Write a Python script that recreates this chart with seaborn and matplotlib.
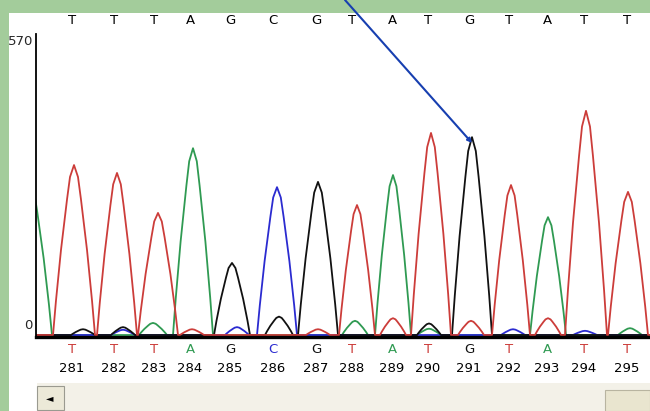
import pandas as pd
import seaborn as sns
import matplotlib.pyplot as plt
from matplotlib.patches import Rectangle

# Base calls shown in the window (scan = position along the trace window)
bases = list('TTTAGCGTATGTATT')
base_numbers = list(range(281, 296))
call_scan = [36, 78, 118, 154, 194, 237, 280, 316, 356, 392, 433, 473, 511, 548, 591]

# Main peaks: channel, apex scan, apex height, half base width
peak_base = ['A', 'T', 'T', 'T', 'A', 'G', 'C', 'G', 'T', 'A', 'T', 'G', 'T', 'A', 'T', 'T']
peak_scan = [-6, 38, 81, 122, 157, 196, 241, 282, 321, 357, 395, 436, 475, 512, 550, 592]
peak_height = [292, 323, 308, 232, 355, 137, 281, 291, 247, 304, 384, 376, 285, 224, 426, 272]
peak_halfwidth = [22, 21, 20, 20, 20, 18, 20, 20, 18, 18, 20, 20, 19, 18, 21, 20]

# Small secondary bumps along the baseline
bump_base = ['G', 'G', 'C', 'A', 'T', 'C', 'G', 'T', 'A', 'T', 'G', 'A', 'T', 'C', 'T', 'C', 'A']
bump_scan = [47, 87, 87, 117, 156, 201, 243, 282, 319, 357, 393, 393, 435, 477, 512, 549, 594]
bump_height = [11, 15, 10, 23, 11, 15, 35, 11, 27, 32, 22, 12, 27, 11, 32, 8, 13]
bump_halfwidth = [12, 12, 12, 14, 12, 12, 14, 12, 13, 13, 12, 12, 13, 12, 13, 12, 12]

shape_dx = [-1, -0.86, -0.62, -0.33, -0.19, 0, 0.19, 0.33, 0.62, 0.86, 1]
shape_fy = [0, 0.2, 0.5, 0.8, 0.93, 1, 0.93, 0.8, 0.5, 0.2, 0]

colors = {'A': '#2f9a52', 'C': '#2b2bd0', 'G': '#111111', 'T': '#cc3d3a'}

# Build one polyline per channel from the peak table
rows = []
for ch in ['A', 'C', 'G', 'T']:
    pk = [(c, h, w) for b, c, h, w in zip(peak_base, peak_scan, peak_height, peak_halfwidth) if b == ch]
    pk += [(c, h, w) for b, c, h, w in zip(bump_base, bump_scan, bump_height, bump_halfwidth) if b == ch]
    pk.sort()
    rows.append((ch, -30, 0))
    for c, h, w in pk:
        rows += [(ch, c + dx * w, fy * h) for dx, fy in zip(shape_dx, shape_fy)]
    rows.append((ch, 640, 0))
traces = pd.DataFrame(rows, columns=['channel', 'scan', 'signal'])

sns.set_style('white')
plt.rcParams['font.family'] = ['DejaVu Sans']

fig = plt.figure(figsize=(6.5, 4.11), dpi=100)
fig.patch.set_facecolor('#a3cc9b')
# white window panel and scrollbar (behind the axes)
panels = [
    Rectangle((9 / 650, 0), 1, 398 / 411, facecolor='white', edgecolor='none'),
    Rectangle((37 / 650, 0), 1, 28 / 411, facecolor='#f3f1e8', edgecolor='none'),
    Rectangle((37 / 650, 1 / 411), 27 / 650, 24 / 411, facecolor='#ece9d8', edgecolor='#9a9a90', lw=0.8),
    Rectangle((605 / 650, 0), 45 / 650, 21 / 411, facecolor='#e9e5cf', edgecolor='#b8b4a0', lw=0.8),
]
for p in panels:
    p.set_transform(fig.transFigure)
    p.set_zorder(-5)
    fig.patches.append(p)
fig.text(50 / 650, 13 / 411, '\u25c4', fontsize=7, ha='center', va='center', color='black')

ax = fig.add_axes([36 / 650, 74.4 / 411, 614 / 650, 302.6 / 411])
ax.set_facecolor('none')
sns.lineplot(data=traces, x='scan', y='signal', hue='channel', palette=colors,
             sort=False, estimator=None, legend=False, lw=1.3, ax=ax)

ax.set_xlim(0, 614)
ax.set_ylim(-3, 572)
ax.set_xticks([])
ax.set_yticks([])
ax.set_xlabel('')
ax.set_ylabel('')
for s in ['top', 'right']:
    ax.spines[s].set_visible(False)
ax.spines['left'].set_color('black')
ax.spines['left'].set_linewidth(1.3)
ax.spines['bottom'].set_color('black')
ax.spines['bottom'].set_linewidth(2.4)

ax.text(-0.005, 0.9736, '570', transform=ax.transAxes, ha='right', va='center', fontsize=9.5)
ax.text(-0.005, 0.038, '0', transform=ax.transAxes, ha='right', va='center', fontsize=9.5)

xt = ax.get_xaxis_transform()
for x, b, n in zip(call_scan, bases, base_numbers):
    ax.text(x, 1.043, b, transform=xt, ha='center', va='center', fontsize=9.5, color='black')
    ax.text(x, -0.041, b, transform=xt, ha='center', va='center', fontsize=9.5, color=colors[b])
    ax.text(x, -0.107, str(n), transform=xt, ha='center', va='center', fontsize=9.5, color='black')

# pointer arrow to the G at 291
ax.annotate('', xy=(436, 365), xycoords='data', xytext=(345 / 650, 1.0),
            textcoords='figure fraction', annotation_clip=False,
            arrowprops=dict(arrowstyle='-|>', color='#173fb0', lw=1.5,
                            mutation_scale=6, shrinkA=0, shrinkB=0))

fig.savefig('out.png', dpi=100)
